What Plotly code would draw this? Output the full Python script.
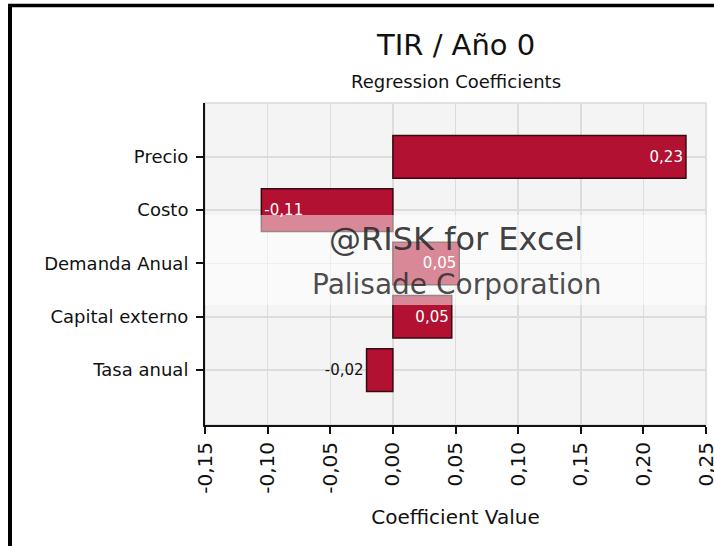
import plotly.graph_objects as go

categories = ["Precio", "Costo", "Demanda Anual", "Capital externo", "Tasa anual"]
values = [0.234, -0.105, 0.053, 0.047, -0.021]
value_labels = ["0,23", "-0,11", "0,05", "0,05", "-0,02"]
label_positions = ["inside", "inside", "inside", "inside", "outside"]
label_colors = ["white", "white", "white", "white", "#111111"]
tick_vals = [-0.15, -0.10, -0.05, 0.00, 0.05, 0.10, 0.15, 0.20, 0.25]
tick_text = ["-0,15", "-0,10", "-0,05", "0,00", "0,05", "0,10", "0,15", "0,20", "0,25"]

FONT = "DejaVu Sans"
W, H = 714, 546
L, R, T, B = 205, 8, 103, 121
pw, ph = W - L - R, H - T - B

def px(xp):
    return (xp - L) / pw

def py(yp):
    return (H - B - yp) / ph

fig = go.Figure()
fig.add_trace(go.Bar(
    y=categories, x=values, orientation="h", width=0.8,
    marker=dict(color="#B21131", line=dict(color="#3a0810", width=1.5)),
    text=value_labels, textposition=label_positions,
    insidetextanchor="end",
    textfont=dict(family=FONT, size=15, color=label_colors),
    cliponaxis=False, hoverinfo="skip",
))

shapes = [
    # plot area light border
    dict(type="rect", xref="paper", yref="paper", x0=0, x1=1, y0=0, y1=1,
         line=dict(color="#D8D8D8", width=1.5), layer="below"),
    # zero dotted line
    dict(type="line", xref="x", yref="paper", x0=0, x1=0, y0=0, y1=1,
         line=dict(color="#E0203A", width=1.5, dash="dot"), layer="below"),
    # watermark band
    dict(type="rect", xref="paper", yref="paper", x0=0, x1=1, y0=py(305), y1=py(215),
         fillcolor="rgba(255,255,255,0.5)", line=dict(width=0), layer="above"),
    # outer border (left and top)
    dict(type="line", xref="paper", yref="paper", x0=px(10), x1=px(10), y0=py(560), y1=py(4),
         line=dict(color="black", width=4)),
    dict(type="line", xref="paper", yref="paper", x0=px(8), x1=px(730), y0=py(5.5), y1=py(5.5),
         line=dict(color="black", width=3.5)),
]

annotations = [
    dict(text="TIR / Año 0", xref="paper", yref="paper", x=0.5, y=py(45),
         showarrow=False, font=dict(family=FONT, size=29, color="#111111"), yanchor="middle"),
    dict(text="Regression Coefficients", xref="paper", yref="paper", x=0.5, y=py(81),
         showarrow=False, font=dict(family=FONT, size=18, color="#111111"), yanchor="middle"),
    dict(text="@RISK for Excel", xref="paper", yref="paper", x=px(456), y=py(239),
         showarrow=False, font=dict(family=FONT, size=32, color="rgba(40,40,40,0.9)"), yanchor="middle"),
    dict(text="Palisade Corporation", xref="paper", yref="paper", x=px(456), y=py(284),
         showarrow=False, font=dict(family=FONT, size=28, color="rgba(45,45,45,0.85)"), yanchor="middle"),
]

fig.update_layout(
    width=W, height=H,
    margin=dict(l=L, r=R, t=T, b=B, pad=0, autoexpand=False),
    paper_bgcolor="white", plot_bgcolor="#F4F4F4",
    showlegend=False, bargap=0.2,
    shapes=shapes, annotations=annotations,
    font=dict(family=FONT, color="#111111"),
    xaxis=dict(
        range=[-0.15, 0.25], tickvals=tick_vals, ticktext=tick_text, tickangle=-90,
        tickfont=dict(family=FONT, size=20, color="#111111"),
        ticks="outside", ticklen=7, tickwidth=2, tickcolor="#111111",
        ticklabeloverflow="allow", automargin=False,
        showline=True, linecolor="#111111", linewidth=2,
        showgrid=True, gridcolor="#DCDCDC", gridwidth=1.5, zeroline=False,
        title=dict(text="Coefficient Value", font=dict(family=FONT, size=20, color="#111111"), standoff=17),
        fixedrange=True,
    ),
    yaxis=dict(
        range=[5.03, -1.01], type="category", automargin=False,
        tickfont=dict(family=FONT, size=18, color="#111111"),
        ticks="outside", ticklen=7, tickwidth=2, tickcolor="#111111",
        showline=True, linecolor="#111111", linewidth=2,
        showgrid=True, gridcolor="#DCDCDC", gridwidth=1.5, zeroline=False,
        ticklabelstandoff=4, fixedrange=True,
    ),
)

fig.write_html(
    "out.html",
    config={"displayModeBar": False, "staticPlot": True},
    post_script="document.body.style.margin='0';document.body.style.overflow='hidden';",
)
